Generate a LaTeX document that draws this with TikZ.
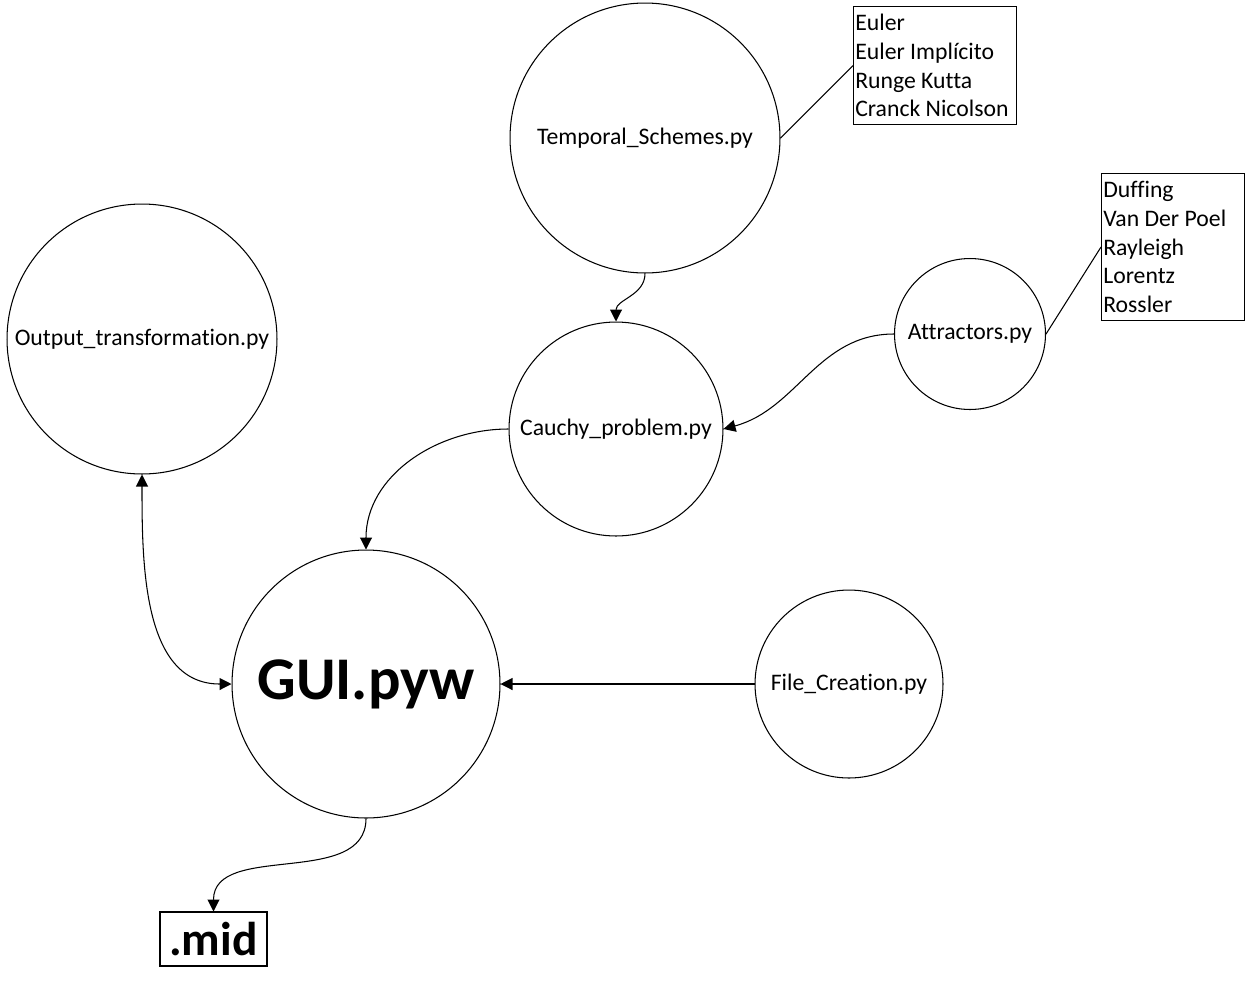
\documentclass[tikz,border=0pt]{standalone}
\usepackage{fontspec}
\setmainfont{Carlito}[Ligatures={NoCommon}]
\usetikzlibrary{arrows.meta}

\begin{document}
\begin{tikzpicture}[x=0.02cm,y=-0.02cm,line width=0.6pt,
		module/.style={draw,circle,inner sep=0pt,font=\fontsize{13.5}{16}\selectfont},
		list/.style={draw,anchor=north west,align=left,inner xsep=1pt,inner ysep=0pt,font=\fontsize{13.5}{16.4}\selectfont,
			execute at begin node={\spaceskip=0pt\xspaceskip=0pt}},
		link/.style={-{Triangle[length=0.24cm,width=0.24cm]}}]
		\useasboundingbox (0,0) rectangle (1246,991);
		% modules
		\node[module,minimum size=5.4cm] (temporal) at (645,138) {Temporal\_Schemes.py};
		\node[module,minimum size=5.4cm] (output) at (142,339) {Output\_transformation.py};
		\node[module,minimum size=4.28cm] (cauchy) at (616,429) {Cauchy\_problem.py};
		\node[module,minimum size=3.02cm] (attractors) at (970,334) {Attractors.py};
		\node[module,minimum size=5.36cm,font=\fontsize{34.5}{40}\selectfont\bfseries] (gui) at (366,684) {GUI.pyw};
		\node[module,minimum size=3.76cm] (file) at (849,684) {File\_Creation.py};
		\node[draw,inner sep=0pt,minimum width=2.14cm,minimum height=1.08cm,font=\fontsize{27}{32}\selectfont\bfseries] (mid) at (213.5,939) {.mid};
		% lists
		\node[list,text width=3.19cm,minimum height=2.36cm] (schemes) at (853,6) {Euler\\Euler Implícito\\Runge Kutta\\Cranck Nicolson};
		\node[list,text width=2.79cm,minimum height=2.94cm] (systems) at (1101,173) {Duffing\\Van Der Poel\\Rayleigh\\Lorentz\\Rossler};
		\draw (temporal.east) -- (schemes.west);
		\draw (attractors.east) -- (systems.west);
		% arrows
		\draw[link] (temporal.south) to[out=-90,in=90] (cauchy.north);
		\draw[link] (attractors.west) to[out=180,in=15] (cauchy.east);
		\draw[link] (cauchy.west) to[out=180,in=90] (gui.north);
		\draw[{Triangle[length=0.24cm,width=0.24cm]}-{Triangle[length=0.24cm,width=0.24cm]}] (output.south) to[out=-90,in=180] (gui.west);
		\draw[link] (file.west) -- (gui.east);
		\draw[link] (gui.south) to[out=-90,in=90] (mid.north);
\end{tikzpicture}
\end{document}
